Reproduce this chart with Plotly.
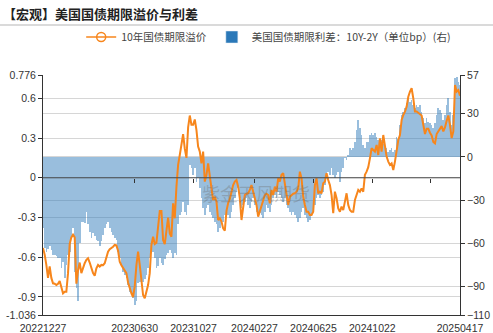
import plotly.graph_objects as go
import pandas as pd

START = "2022-12-27"
END = "2025-04-17"

# 10年国债期限溢价 (left axis), evenly spaced in time
term_premium = [
    -0.53, -0.58, -0.658, -0.756, -0.67, -0.756, -0.797, -0.80, -0.81, -0.80,
    -0.78, -0.83, -0.872, -0.86, -0.86, -0.72, -0.50, -0.45, -0.43, -0.45,
    -0.80, -0.70, -0.64, -0.72, -0.68, -0.645, -0.62, -0.608, -0.64, -0.683,
    -0.72, -0.74, -0.683, -0.658, -0.67, -0.658, -0.66, -0.645, -0.60, -0.558,
    -0.54, -0.532, -0.52, -0.507, -0.51, -0.55, -0.633, -0.66, -0.683, -0.70,
    -0.72, -0.79, -0.84, -0.872, -0.90, -0.82, -0.66, -0.558, -0.658, -0.80,
    -0.885, -0.91, -0.86, -0.81, -0.72, -0.507, -0.445, -0.50, -0.49, -0.382,
    -0.25, -0.25, -0.47, -0.50, -0.40, -0.30, -0.42, -0.445, -0.193, -0.306,
    -0.067, 0.097, 0.172, 0.27, 0.33, 0.22, 0.15, 0.38,
    0.47, 0.40, 0.40, 0.44, 0.36, 0.235, 0.198, 0.109, 0.198, -0.029,
    0.022, 0.109, -0.004, -0.08, -0.168, -0.143, -0.18, -0.319, -0.306, -0.33,
    -0.382, -0.40, -0.25, -0.19, -0.16, -0.105, -0.055, -0.029, -0.017, -0.067,
    -0.155, -0.319, -0.205, -0.13, -0.12, -0.117, -0.092, -0.055, -0.105, -0.155,
    -0.205, -0.294, -0.256, -0.205, -0.17, -0.13, -0.12, -0.13, -0.193, -0.092,
    -0.13, -0.067, -0.105, -0.004, -0.029, 0.022, 0.035, -0.055, -0.155, -0.205,
    -0.143, -0.13, -0.12, -0.117, -0.105, -0.08, 0.046, -0.004, -0.143, -0.205,
    -0.256, -0.256, -0.281, -0.281, -0.256, -0.055, -0.004, -0.117, -0.105, -0.117,
    -0.042, -0.029, 0.035, -0.017, -0.055, -0.13, -0.268, -0.105,
    -0.155, -0.231, -0.256, -0.218, -0.243, -0.18, -0.117, -0.205, -0.243, -0.256,
    -0.256, -0.168, -0.13, -0.092, -0.105, -0.08, -0.105, 0.022, 0.046, 0.08,
    0.147, 0.223, 0.21, 0.198, 0.248, 0.172, 0.298, 0.198, 0.323, 0.223,
    0.16, 0.122, 0.097, 0.109, 0.059, 0.122, 0.223, 0.285, 0.323, 0.436,
    0.474, 0.499, 0.537, 0.612, 0.65, 0.676, 0.60, 0.50, 0.50, 0.49,
    0.48, 0.47, 0.40, 0.33, 0.37, 0.37, 0.34, 0.32, 0.27, 0.26,
    0.33, 0.35, 0.37, 0.39, 0.35, 0.38, 0.43, 0.47, 0.40, 0.30,
    0.35, 0.70, 0.65, 0.662, 0.62,
]

# 美国国债期限利差：10Y-2Y (bp, right axis)
spread = [
    -49.7, -63.6, -66, -64, -62, -65, -68, -68.5, -69, -70,
    -70, -77.5, -73, -84.5, -75, -68, -66, -56.7, -49.7, -79.9,
    -91.5, -100, -60, -45, -45, -46, -38, -47, -52, -56.7,
    -53, -55, -57.5, -58.6, -62, -58.6, -54, -49.7, -47, -45,
    -49.7, -52, -54, -56.7, -57.5, -66, -70, -75, -79.9, -82,
    -84.5, -89, -94, -96, -98.4, -103, -100, -88, -87, -86,
    -86.7, -85, -82, -77, -70, -67, -66, -70, -77, -76,
    -70, -74, -75, -71, -68, -67, -65, -67, -70, -67,
    -68, -47, -40.4, -38, -31.2, -38, -40.4, -33.5,
    -5.6, -8, -12.6, -8, -17.2, -14.9, -21.9, -28.8, -35.8, -40.4,
    -35.8, -33.5, -38, -40.4, -42.7, -45, -47, -52, -49.7, -47,
    -45, -40.4, -38, -40.4, -42.7, -38, -33.5, -28.8, -24.2, -21.9,
    -28.8, -35.8, -33.5, -31.2, -28.8, -33.5, -35.8, -31.2, -28.8, -33.5,
    -38, -40.4, -39, -40.4, -42.7, -38, -33.5, -35.8, -38, -33.5,
    -28.8, -26.5, -28.8, -24.2, -26.5, -28.8, -31.2, -28.8, -33.5, -35.8,
    -38, -40.4, -38, -40.4, -42.7, -45, -42.7, -38, -35.8, -40.4,
    -42.7, -45, -44, -40.4, -38, -33.5, -28.8, -26.5, -28.8, -26.5,
    -24.2, -19.6, -14.9, -10.3, -12.6, -8, -12.6, -14.9,
    -12.6, -10.3, -17.2, -10.3, -8, -1, -2, 1.3, 6, 4.8,
    6, 10.6, 18.7, 25.7, 19.8, 15.2, 8.3, 6, 10.6, 10.6,
    15.2, 16.4, 15.2, 16.4, 13.9, 11.6, 10.6, 11.6, 9.3, 7,
    6, 3.7, 4.8, 6, 3.7, 4.8, 13.9, 12.8, 22.2, 29.2,
    31.5, 33.8, 37.3, 40.8, 38.5, 39.6, 36, 33.8, 36, 35,
    36, 31.5, 26.9, 23.4, 26.9, 24.6, 23.4, 22.2, 19.8, 23.4,
    29.2, 33.8, 32.7, 30.3, 25.7, 29.2, 36, 40.8, 31.5, 22.2,
    29.2, 54.7, 55.9, 52.4, 50,
]

tick_dates = ["2022-12-27", "2023-06-30", "2023-10-27", "2024-02-27",
              "2024-06-25", "2024-10-22", "2025-04-17"]
tick_labels = ["20221227", "20230630", "20231027", "20240227",
               "20240625", "20241022", "20250417"]
zero_tick_dates = ["2023-06-30", "2023-10-27", "2024-02-27",
                   "2024-06-25", "2024-10-22", "2025-02-17"]

left_ticks = [-1.036, -0.9, -0.6, -0.3, 0, 0.3, 0.6, 0.776]
left_labels = ["-1.036", "-0.9", "-0.6", "-0.3", "0", "0.3", "0.6", "0.776"]
right_ticks = [-110, -90, -60, -30, 0, 30, 57]

NAME_LINE = "10年国债期限溢价"
NAME_BAR = "美国国债期限利差：10Y-2Y（单位bp）(右)"
TITLE = "【宏观】美国国债期限溢价与利差"
WATERMARK = "紫金天风期货"

ORANGE = "#F7861C"
BLUE = "#2A78B8"
FONT = "Noto Sans CJK SC"
TICK_FONT = "Liberation Sans, Arial, sans-serif"

line_x = pd.date_range(START, END, periods=len(term_premium))
bar_x = pd.date_range(START, END, periods=len(spread))

fig = go.Figure()
fig.add_trace(go.Bar(x=bar_x, y=spread, yaxis="y", xaxis="x",
                     marker=dict(color="rgba(42,120,184,0.48)", line=dict(width=0)),
                     showlegend=False, name=NAME_BAR, hoverinfo="skip"))
fig.add_trace(go.Scatter(x=line_x, y=term_premium, yaxis="y2", xaxis="x",
                         mode="lines", line=dict(color=ORANGE, width=2),
                         showlegend=False, name=NAME_LINE, hoverinfo="skip"))
# legend entries
fig.add_trace(go.Scatter(x=[None], y=[None], yaxis="y", xaxis="x2",
                         mode="lines+markers", name=NAME_LINE,
                         line=dict(color=ORANGE, width=1.5),
                         marker=dict(symbol="circle-open", size=9, color=ORANGE,
                                     line=dict(width=1.5, color=ORANGE))))
fig.add_trace(go.Bar(x=[None], y=[None], yaxis="y", xaxis="x", name=NAME_BAR,
                     marker=dict(color=BLUE)))

axis_common = dict(showline=True, linecolor="#333", linewidth=1,
                   ticks="outside", ticklen=4, tickcolor="#333",
                   tickfont=dict(size=10.5, color="#333", family=TICK_FONT),
                   gridcolor="#d6d6d6", gridwidth=1, zeroline=False,
                   automargin=False)

fig.update_layout(
    width=493, height=333,
    margin=dict(l=43, r=33, t=75, b=18, autoexpand=False),
    paper_bgcolor="white", plot_bgcolor="white",
    barmode="overlay", bargap=0,
    font=dict(family=FONT, color="#333", size=11),
    title=dict(text="<b>" + TITLE + "</b>", x=0.006, xref="container",
               xanchor="left", y=1 - 14 / 333, yref="container", yanchor="middle",
               font=dict(size=13, color="#222", family=FONT)),
    legend=dict(orientation="h", xref="container", yref="container",
                x=0.545, xanchor="center", y=1 - 37 / 333, yanchor="middle",
                font=dict(size=10.5, color="#444", family=FONT),
                bgcolor="rgba(0,0,0,0)", itemwidth=30, tracegroupgap=0),
    xaxis=dict(type="date", range=[START, END], tickvals=tick_dates,
               ticktext=tick_labels, showline=True, linecolor="#333",
               ticks="", showgrid=False, zeroline=False, automargin=False,
               ticklabelstandoff=3,
               tickfont=dict(size=10.5, color="#333", family=TICK_FONT)),
    xaxis2=dict(type="date", range=[START, END], overlaying="x", anchor="free",
                position=1.036 / 1.812, tickvals=zero_tick_dates, ticks="outside",
                ticklen=4, tickcolor="#333", showticklabels=False,
                showgrid=False, showline=False, zeroline=False, automargin=False),
    yaxis=dict(side="right", range=[-110, 57], tickvals=right_ticks, **axis_common),
    yaxis2=dict(side="left", overlaying="y", range=[-1.036, 0.776],
                tickvals=left_ticks, ticktext=left_labels, **axis_common),
    shapes=[
        dict(type="line", xref="paper", x0=0, x1=1, yref="y2", y0=0, y1=0,
             line=dict(color="#4a4a4a", width=1), layer="above"),
        dict(type="line", xref="paper", x0=-43 / 417, x1=450 / 417,
             yref="paper", y0=290 / 240, y1=290 / 240,
             line=dict(color="#b5b5b5", width=1)),
    ],
    annotations=[
        dict(text=WATERMARK, xref="paper", yref="paper", x=0.51, y=0.51,
             showarrow=False, font=dict(size=18, color="rgba(110,110,110,0.35)",
                                         family=FONT)),
    ],
)

fig.write_html("out.html")
